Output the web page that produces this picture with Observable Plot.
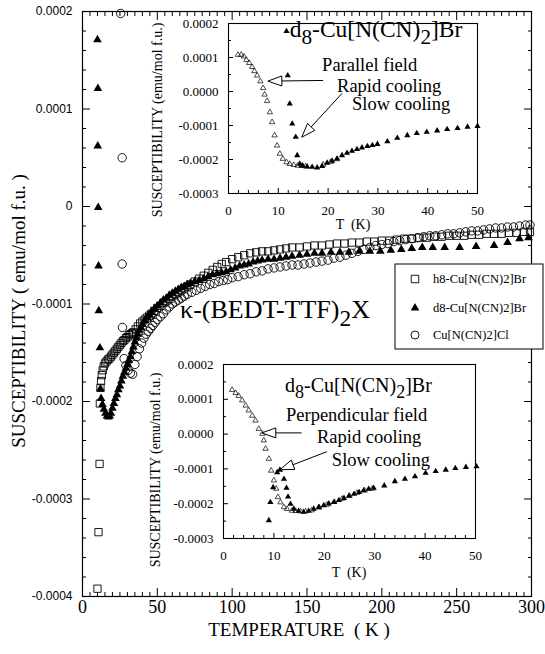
<!DOCTYPE html>
<html><head><meta charset="utf-8">
<script src="https://cdn.jsdelivr.net/npm/d3@7"></script>
<script src="https://cdn.jsdelivr.net/npm/@observablehq/plot@0.6"></script>
<style>
html,body{margin:0;padding:0;background:#fff;}
#wrap{position:relative;width:545px;height:654px;overflow:hidden;background:#fff;}
</style></head>
<body><div id="wrap"></div>
<script>
// ---------- DATA (T in K, susceptibility in units of 1e-4 emu/mol f.u.) ----------
const h8Br = [[10.0,-3.92],[10.7,-3.34],[11.4,-2.64],[11.6,-2.02],[12.0,-1.86],[12.4,-1.79],[12.9,-1.73],[13.5,-1.68],[14.2,-1.64],[15.0,-1.61],[16.0,-1.59],[17.0,-1.57],[18.0,-1.56],[19.0,-1.54],[20.0,-1.52],[21.0,-1.50],[22.0,-1.48],[23.0,-1.46],[24.0,-1.44],[25.0,-1.42],[26.0,-1.40],[27.0,-1.38],[28.0,-1.37],[29.0,-1.35],[30.0,-1.34],[31.0,-1.32],[32.0,-1.31],[33.0,-1.30],[34.0,-1.29],[35.5,-1.26],[37.0,-1.23],[38.5,-1.20],[40.0,-1.18],[41.5,-1.16],[43.0,-1.14],[44.5,-1.12],[46.0,-1.10],[48.0,-1.07],[50.0,-1.04],[52.0,-1.02],[54.0,-0.99],[56.0,-0.97],[58.0,-0.95],[60.0,-0.92],[62.0,-0.90],[64.0,-0.88],[66.0,-0.86],[68.0,-0.84],[70.0,-0.82],[72.0,-0.80],[75.0,-0.77],[78.0,-0.74],[81.0,-0.71],[84.0,-0.68],[87.0,-0.65],[90.0,-0.62],[93.0,-0.59],[96.0,-0.57],[100.0,-0.54],[104.0,-0.52],[108.0,-0.50],[112.0,-0.48],[116.0,-0.47],[120.0,-0.46],[124.0,-0.46],[128.0,-0.45],[132.0,-0.44],[136.0,-0.43],[140.0,-0.42],[145.0,-0.42],[150.0,-0.41],[155.0,-0.40],[160.0,-0.40],[165.0,-0.39],[170.0,-0.38],[175.0,-0.38],[180.0,-0.37],[185.0,-0.37],[190.0,-0.36],[195.0,-0.36],[200.0,-0.35],[205.0,-0.35],[210.0,-0.34],[215.0,-0.33],[220.0,-0.33],[225.0,-0.32],[230.0,-0.32],[235.0,-0.31],[240.0,-0.31],[245.0,-0.30],[250.0,-0.30],[255.0,-0.30],[260.0,-0.29],[265.0,-0.29],[270.0,-0.28],[275.0,-0.28],[280.0,-0.28],[285.0,-0.27],[290.0,-0.27],[295.0,-0.26],[299.0,-0.26]];

const d8Br = [[10.0,1.71],[10.3,1.21],[10.2,0.62],[10.5,-0.01],[10.7,-0.61],[10.9,-1.07],[11.6,-1.45],[12.0,-1.87],[12.4,-1.97],[13.3,-2.03],[14.3,-2.08],[15.3,-2.12],[16.3,-2.15],[17.3,-2.16],[18.2,-2.15],[19.0,-2.12],[20.0,-2.07],[21.0,-2.02],[22.0,-1.97],[23.0,-1.93],[24.0,-1.88],[25.0,-1.84],[26.0,-1.79],[27.0,-1.74],[28.0,-1.70],[29.0,-1.66],[30.0,-1.62],[31.0,-1.58],[32.0,-1.54],[33.0,-1.49],[34.0,-1.44],[35.0,-1.39],[36.0,-1.35],[37.0,-1.31],[38.0,-1.27],[39.0,-1.24],[40.0,-1.21],[41.5,-1.17],[43.0,-1.14],[44.5,-1.11],[46.0,-1.08],[48.0,-1.05],[50.0,-1.02],[52.0,-0.99],[54.0,-0.96],[56.0,-0.94],[58.0,-0.91],[60.0,-0.89],[62.0,-0.87],[64.0,-0.85],[66.0,-0.83],[68.0,-0.82],[70.0,-0.80],[72.0,-0.79],[75.0,-0.77],[78.0,-0.76],[81.0,-0.74],[84.0,-0.72],[87.0,-0.70],[90.0,-0.69],[93.0,-0.68],[96.0,-0.67],[99.0,-0.65],[102.0,-0.63],[105.0,-0.61],[108.0,-0.60],[111.0,-0.59],[114.0,-0.57],[117.0,-0.56],[120.0,-0.55],[124.0,-0.54],[128.0,-0.54],[132.0,-0.53],[136.0,-0.52],[140.0,-0.51],[145.0,-0.50],[150.0,-0.49],[155.0,-0.48],[160.0,-0.48],[166.0,-0.47],[172.0,-0.47],[178.0,-0.47],[185.0,-0.46],[192.0,-0.46],[199.0,-0.46],[206.0,-0.45],[213.0,-0.44],[220.0,-0.43],[227.0,-0.42],[234.0,-0.42],[242.0,-0.42],[252.0,-0.42],[263.0,-0.41],[275.0,-0.40],[284.0,-0.37],[292.0,-0.33],[298.0,-0.32]];

const clCu = [[25.5,1.98],[26.5,0.50],[26.5,-0.59],[26.7,-1.24],[27.8,-1.56],[29.0,-1.63],[30.5,-1.68],[32.0,-1.71],[33.5,-1.72],[35.0,-1.62],[36.5,-1.54],[38.0,-1.46],[39.5,-1.40],[41.0,-1.35],[42.5,-1.31],[44.0,-1.28],[45.5,-1.25],[47.0,-1.22],[48.5,-1.19],[50.0,-1.16],[52.0,-1.13],[54.0,-1.10],[56.0,-1.06],[58.0,-1.03],[60.0,-1.00],[62.0,-0.98],[64.0,-0.96],[66.0,-0.94],[68.0,-0.92],[70.0,-0.90],[73.0,-0.88],[76.0,-0.86],[79.0,-0.84],[82.0,-0.82],[85.0,-0.80],[88.0,-0.79],[91.0,-0.77],[94.0,-0.76],[97.0,-0.75],[100.0,-0.73],[104.0,-0.72],[108.0,-0.70],[112.0,-0.69],[116.0,-0.67],[120.0,-0.66],[124.0,-0.64],[128.0,-0.63],[132.0,-0.62],[136.0,-0.61],[140.0,-0.60],[144.0,-0.60],[148.0,-0.59],[152.0,-0.58],[156.0,-0.57],[160.0,-0.56],[164.0,-0.55],[168.0,-0.53],[172.0,-0.52],[176.0,-0.50],[180.0,-0.48],[184.0,-0.46],[188.0,-0.44],[192.0,-0.42],[196.0,-0.40],[200.0,-0.39],[204.0,-0.38],[208.0,-0.36],[212.0,-0.35],[216.0,-0.34],[220.0,-0.33],[224.0,-0.32],[228.0,-0.31],[232.0,-0.30],[236.0,-0.30],[240.0,-0.29],[244.0,-0.28],[248.0,-0.28],[252.0,-0.27],[256.0,-0.26],[260.0,-0.25],[264.0,-0.25],[268.0,-0.24],[272.0,-0.23],[276.0,-0.22],[280.0,-0.22],[284.0,-0.21],[288.0,-0.21],[292.0,-0.20],[296.0,-0.19],[299.0,-0.19]];

// Upper inset: parallel field
const parRapid = [[1.9,1.08],[2.55,1.08],[3.1,1.03],[3.6,0.93],[4.15,0.84],[4.75,0.72],[5.2,0.60],[5.75,0.47],[6.4,0.30],[6.95,0.10],[7.25,-0.09],[7.75,-0.28],[8.3,-0.61],[8.75,-0.90],[9.25,-1.29],[9.75,-1.59],[10.3,-1.83],[10.9,-1.98],[11.65,-2.08],[12.3,-2.13],[13.1,-2.16],[13.9,-2.18],[14.7,-2.19],[15.5,-2.20],[19.0,-2.15],[20.5,-2.07],[21.8,-1.99]];
const parSlow = [[11.65,1.77],[11.9,0.47],[12.3,-0.36],[12.8,-0.95],[13.5,-1.34],[13.8,-1.88],[14.3,-2.13],[14.9,-2.18],[15.8,-2.21],[16.8,-2.22],[17.8,-2.24],[18.8,-2.20],[19.8,-2.10],[20.8,-2.04],[21.8,-1.98],[22.8,-1.88],[23.8,-1.81],[24.8,-1.75],[25.8,-1.70],[26.8,-1.65],[27.9,-1.61],[28.9,-1.58],[29.9,-1.55],[31.9,-1.47],[33.9,-1.37],[35.9,-1.29],[37.8,-1.23],[39.8,-1.19],[41.9,-1.15],[43.9,-1.11],[46.0,-1.08],[48.0,-1.04],[50.0,-1.02]];

// Lower inset: perpendicular field
const perpRapid = [[1.7,1.27],[2.4,1.18],[3.0,1.10],[3.7,0.97],[4.4,0.82],[5.0,0.68],[5.7,0.53],[6.35,0.39],[7.0,0.15],[7.7,0.01],[8.0,-0.18],[8.35,-0.42],[9.0,-0.71],[9.45,-1.05],[10.0,-1.33],[10.45,-1.57],[10.8,-1.81],[11.3,-1.96],[12.0,-2.10],[12.6,-2.15],[13.6,-2.20],[14.3,-2.21],[15.3,-2.22],[16.3,-2.22],[17.5,-2.19],[19.0,-2.11],[20.5,-2.03],[22.0,-1.95],[23.5,-1.86],[25.0,-1.77],[26.5,-1.69],[28.0,-1.62],[29.5,-1.57]];
const perpSlow = [[9.0,-2.48],[9.3,-1.96],[9.85,-1.53],[10.65,-1.10],[11.2,-1.03],[12.0,-1.29],[12.5,-1.55],[12.8,-1.80],[13.3,-2.01],[13.95,-2.15],[14.9,-2.21],[15.9,-2.24],[16.9,-2.21],[17.9,-2.15],[18.9,-2.10],[19.9,-2.05],[20.9,-2.00],[21.9,-1.96],[22.9,-1.90],[23.9,-1.84],[24.9,-1.78],[25.9,-1.72],[26.9,-1.67],[27.8,-1.62],[28.8,-1.58],[29.8,-1.55],[31.9,-1.48],[34.0,-1.36],[36.0,-1.29],[38.0,-1.22],[40.1,-1.12],[42.1,-1.07],[44.1,-1.03],[46.0,-0.98],[48.1,-0.95],[50.2,-0.93]];

// Tick values
const mainXMajor = [0,50,100,150,200,250,300];
const mainXMinor = d3.range(0,301,5).filter(v => v % 50 !== 0);
const mainYMajor = [-4,-3,-2,-1,0,1,2];
const mainYMinor = d3.range(-40,21,2).map(v => v/10).filter(v => Math.abs(v - Math.round(v)) > 1e-9);
const insetXMajor = [0,10,20,30,40,50];
const insetXMinor = d3.range(0,51,2).filter(v => v % 10 !== 0);
const insetYMajor = [-3,-2,-1,0,1,2];
const insetYMinor = [-2.5,-1.5,-0.5,0.5,1.5];

// Labels / annotations (data coordinates)
const legendLabels = ["h8-Cu[N(CN)2]Br","d8-Cu[N(CN)2]Br","Cu[N(CN)2]Cl"];
const mainTitleParts = ["κ-(BEDT-TTF)","_2","X"];
const mainTitlePos = [65.5,-1.15];
const insetTitleParts = ["d","_8","-Cu[N(CN)","_2","]Br"];
const upperNotes = [{t:"Parallel field",x:18.9,y:0.59},{t:"Rapid cooling",x:21.9,y:-0.03},{t:"Slow cooling",x:24.9,y:-0.56}];
const upperTitlePos = [12.4,1.59];
const upperArrows = [{x1:19.1,y1:0.31,x2:8.0,y2:0.29},{x1:22.9,y1:-0.07,x2:14.8,y2:-1.36}];
const lowerNotes = [{t:"Perpendicular field",x:12.5,y:0.36},{t:"Rapid cooling",x:18.65,y:-0.27},{t:"Slow cooling",x:21.6,y:-0.93}];
const lowerTitlePos = [12.3,1.20];
const lowerArrows = [{x1:15.6,y1:0.02,x2:7.7,y2:0.02},{x1:20.6,y1:-0.52,x2:11.3,y2:-1.04}];

// ---------- RENDER ----------
const serif = "Liberation Serif, Times New Roman, serif";
const sans = "Liberation Sans, Arial, sans-serif";
const fmtMain = v => Math.abs(v) < 1e-9 ? "0" : (v < 0 ? "-" : "") + (Math.abs(v) * 1e-4).toFixed(4);
const fmtInset = v => (v < -1e-9 ? "-" : "") + (Math.abs(v) * 1e-4).toFixed(4);
const X = d => d[0], Y = d => d[1];

const wrap = document.getElementById("wrap");
function place(el, left, top) {
  el.style.position = "absolute"; el.style.left = left + "px"; el.style.top = top + "px";
  wrap.appendChild(el);
}
function richText(g, x, y, parts, size) {
  const t = g.append("text").attr("x", x).attr("y", y).attr("text-anchor", "start")
    .attr("font-family", serif).attr("font-size", size).attr("fill", "black");
  let shifted = false;
  for (const p of parts) {
    const sub = p.startsWith("_");
    const ts = t.append("tspan").text(sub ? p.slice(1) : p);
    if (sub && !shifted) { ts.attr("dy", 0.3 * size).attr("font-size", size * 0.9); shifted = true; }
    else if (sub) { ts.attr("font-size", size * 0.9); }
    else if (shifted) { ts.attr("dy", -0.3 * size); shifted = false; }
  }
  return t;
}
function plainText(g, x, y, s, size, family = serif, anchor = "start") {
  return g.append("text").attr("x", x).attr("y", y).attr("font-family", family)
    .attr("font-size", size).attr("text-anchor", anchor).attr("fill", "black")
    .attr("xml:space", "preserve").style("white-space", "pre").text(s);
}
function arrow(g, sx, sy, a) {
  const x1 = sx(a.x1), y1 = sy(a.y1), x2 = sx(a.x2), y2 = sy(a.y2);
  const dx = x1 - x2, dy = y1 - y2, len = Math.hypot(dx, dy);
  const ux = dx / len, uy = dy / len, L = 14, w = 5;
  const bx = x2 + ux * L, by = y2 + uy * L;
  g.append("line").attr("x1", x1).attr("y1", y1).attr("x2", bx).attr("y2", by)
    .attr("stroke", "black").attr("stroke-width", 1);
  g.append("path").attr("d", `M${x2},${y2}L${bx - uy * w},${by + ux * w}L${bx + uy * w},${by - ux * w}Z`)
    .attr("fill", "white").attr("stroke", "black").attr("stroke-width", 1);
}

// Main chart
const main = Plot.plot({
  width: 545, height: 654,
  marginLeft: 82, marginRight: 14, marginTop: 11, marginBottom: 58,
  x: {domain: [0, 300]},
  y: {domain: [-4, 2]},
  style: {background: "transparent", overflow: "visible", fontFamily: serif},
  marks: [
    Plot.dot(d8Br, {x: X, y: Y, symbol: "triangle", r: 3.2, fill: "black"}),
    Plot.dot(h8Br, {x: X, y: Y, symbol: "square", r: 4.1, fill: "none", stroke: "black", strokeWidth: 0.9}),
    Plot.dot(clCu, {x: X, y: Y, symbol: "circle", r: 4.2, fill: "none", stroke: "black", strokeWidth: 0.9}),
    Plot.frame({stroke: "black", strokeWidth: 1.2}),
    Plot.axisX({ticks: mainXMajor, anchor: "bottom", tickSize: -8, fill: "none", label: null}),
    Plot.axisX({ticks: mainXMajor, anchor: "top", tickSize: -8, fill: "none", label: null}),
    Plot.axisX({ticks: mainXMinor, anchor: "bottom", tickSize: -4, fill: "none", label: null}),
    Plot.axisX({ticks: mainXMinor, anchor: "top", tickSize: -4, fill: "none", label: null}),
    Plot.axisY({ticks: mainYMajor, anchor: "left", tickSize: -8, fill: "none", label: null}),
    Plot.axisY({ticks: mainYMajor, anchor: "right", tickSize: -8, fill: "none", label: null}),
    Plot.axisY({ticks: mainYMinor, anchor: "left", tickSize: -4, fill: "none", label: null}),
    Plot.axisY({ticks: mainYMinor, anchor: "right", tickSize: -4, fill: "none", label: null}),
    Plot.axisX({ticks: mainXMajor, anchor: "bottom", tickSize: 0, tickPadding: 4, tickFormat: d => String(d), fontSize: 18, fontFamily: serif, label: null}),
    Plot.axisY({ticks: mainYMajor, anchor: "left", tickSize: 0, tickPadding: 10, tickFormat: fmtMain, fontSize: 12, fontFamily: sans, label: null})
  ]
});
place(main, 0, 0);
{
  const sx = main.scale("x").apply, sy = main.scale("y").apply;
  const g = d3.select(main).append("g");
  plainText(g, 299, 636, "TEMPERATURE  ( K )", 19, serif, "middle");
  plainText(g, 0, 0, "SUSCEPTIBILITY ( emu/mol f.u. )", 19, serif, "middle")
    .attr("transform", "translate(25,311) rotate(-90)");
  richText(g, sx(mainTitlePos[0]), sy(mainTitlePos[1]), mainTitleParts, 26);
  // legend
  const lg = g.append("g");
  lg.append("rect").attr("x", 395).attr("y", 264).attr("width", 148).attr("height", 85)
    .attr("fill", "white").attr("stroke", "black").attr("stroke-width", 1);
  const syms = [
    {type: d3.symbolSquare, size: 56, fill: "none"},
    {type: d3.symbolTriangle, size: 32, fill: "black"},
    {type: d3.symbolCircle, size: 50, fill: "none"}
  ];
  const rowY = [279, 308, 335];
  legendLabels.forEach((lab, i) => {
    lg.append("path").attr("d", d3.symbol(syms[i].type, syms[i].size)())
      .attr("transform", `translate(415,${rowY[i]})`)
      .attr("fill", syms[i].fill).attr("stroke", syms[i].fill === "none" ? "black" : "none").attr("stroke-width", 0.9);
    plainText(lg, 433, rowY[i] + 4, lab, 12.5);
  });
}

// Insets
function makeInset(cfg) {
  const p = Plot.plot({
    width: cfg.width, height: cfg.height,
    marginLeft: cfg.ml, marginRight: cfg.mr, marginTop: cfg.mt, marginBottom: cfg.mb,
    x: {domain: [0, 50]}, y: {domain: [-3, 2]},
    style: {background: "transparent", overflow: "visible", fontFamily: serif},
    marks: [
      Plot.frame({stroke: "black", strokeWidth: 1.1}),
      Plot.dot(cfg.open, {x: X, y: Y, symbol: "triangle", r: 2.0, fill: "none", stroke: "black", strokeWidth: 0.7}),
      Plot.dot(cfg.filled, {x: X, y: Y, symbol: "triangle", r: 2.3, fill: "black"}),
      Plot.axisX({ticks: insetXMajor, anchor: "bottom", tickSize: -5, fill: "none", label: null}),
      Plot.axisX({ticks: insetXMinor, anchor: "bottom", tickSize: -3, fill: "none", label: null}),
      Plot.axisY({ticks: insetYMajor, anchor: "left", tickSize: -5, fill: "none", label: null}),
      Plot.axisY({ticks: insetYMinor, anchor: "left", tickSize: -3, fill: "none", label: null}),
      Plot.axisX({ticks: insetXMajor, anchor: "bottom", tickSize: 0, tickPadding: 12, tickFormat: d => String(d), fontSize: 13, fontFamily: serif, label: null}),
      Plot.axisY({ticks: insetYMajor, anchor: "left", tickSize: 0, tickPadding: 10, tickFormat: fmtInset, fontSize: 13, fontFamily: serif, label: null})
    ]
  });
  place(p, cfg.left, cfg.top);
  const sx = p.scale("x").apply, sy = p.scale("y").apply;
  const g = d3.select(p).append("g");
  richText(g, sx(cfg.titlePos[0]), sy(cfg.titlePos[1]), insetTitleParts, cfg.titleSize);
  cfg.notes.forEach(n => plainText(g, sx(n.x), sy(n.y), n.t, 18.5));
  cfg.arrows.forEach(a => arrow(g, sx, sy, a));
  plainText(g, cfg.xlab[0], cfg.xlab[1], "T  (K)", 14, serif, "middle");
  plainText(g, 0, 0, "SUSCEPTIBILITY (emu/mol f.u.)", 14, serif, "middle")
    .attr("transform", `translate(${cfg.ylab[0]},${cfg.ylab[1]}) rotate(-90)`);
  return p;
}
makeInset({left: 140, top: 0, width: 345, height: 240, ml: 88, mr: 8, mt: 23, mb: 47,
  open: parRapid, filled: parSlow, titlePos: upperTitlePos, titleSize: 23.5,
  notes: upperNotes, arrows: upperArrows, xlab: [213, 229], ylab: [22, 120]});
makeInset({left: 140, top: 340, width: 345, height: 250, ml: 83, mr: 10, mt: 24, mb: 52,
  open: perpRapid, filled: perpSlow, titlePos: lowerTitlePos, titleSize: 20,
  notes: lowerNotes, arrows: lowerArrows, xlab: [209, 237], ylab: [20, 130]});
</script>
</body></html>
